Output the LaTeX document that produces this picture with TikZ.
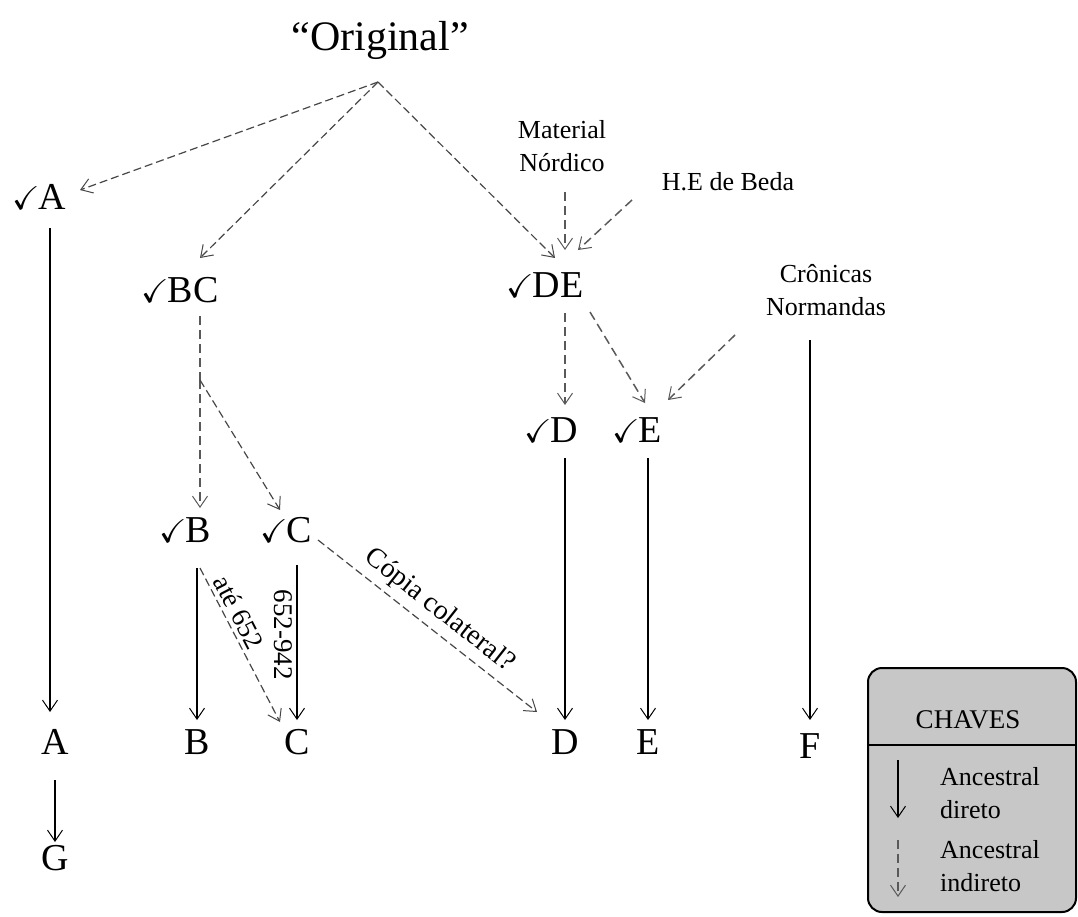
\documentclass[tikz,border=0pt]{standalone}
\usepackage{amssymb}
\usepackage{fontspec}
\setmainfont{Liberation Serif}
\usetikzlibrary{arrows.meta,calc}
\newcommand{\ck}{{\fontsize{33}{33}\selectfont$\checkmark$}\kern-1pt}
\tikzset{
  big/.style={inner sep=0pt,font=\fontsize{38}{40}\selectfont},
  small/.style={inner sep=0pt,align=center,font=\fontsize{26}{33}\selectfont},
  tip/.style={-{Straight Barb[length=11pt,width=15pt,line width=1pt]}},
  dir/.style={tip,draw=black,line width=1.2pt},
  ind/.style={tip,draw=black!65,line width=1.5pt,dash pattern=on 9pt off 5pt},
  ind2/.style={tip,draw=black!72,line width=1.2pt,dash pattern=on 8pt off 4pt},
}
\begin{document}
\begin{tikzpicture}[x=1pt,y=-1pt]
\useasboundingbox (0,0) rectangle (1078,916);
% nodes
\node[inner sep=0pt,font=\fontsize{42}{44}\selectfont] (orig) at (380,40) {“Original”};
\coordinate (apex) at (378,82);
\node[big] (vA) at (39,197) {\ck A};
\node[big] (vBC) at (180,290) {\ck BC};
\node[big] (vB) at (185,530) {\ck B};
\node[big] (vC) at (286,530) {\ck C};
\node[big] (vDE) at (545,285) {\ck DE};
\node[big] (vD) at (551,430) {\ck D};
\node[big] (vE) at (637,430) {\ck E};
\node[big] (bA) at (55,742) {A};
\node[big] (bB) at (197,742) {B};
\node[big] (bC) at (297,742) {C};
\node[big] (bD) at (565,742) {D};
\node[big] (bE) at (648,742) {E};
\node[big] (bF) at (810,746) {F};
\node[big] (bG) at (55,858) {G};
\node[small] (mat) at (562,146) {Material\\Nórdico};
\node[small] (beda) at (728,182) {H.E de Beda};
\node[small] (cron) at (826,290) {Crônicas\\Normandas};
\coordinate (split) at ([shift={(20,90)}]vBC.center);
% connectors from original
\draw[ind2] (apex) -- ([shift={(41,-7)}]vA.center);
\draw[ind2] (apex) -- ([shift={(20,-32)}]vBC.center);
\draw[ind2] (apex) -- ([shift={(10,-27)}]vDE.center);
% into DE
\draw[ind] ([shift={(3,46)}]mat.center) -- ([shift={(20,-35)}]vDE.center);
\draw[ind] ([shift={(-96,18)}]beda.center) -- ([shift={(33,-35)}]vDE.center);
% from DE
\draw[ind] ([shift={(20,28)}]vDE.center) -- ([shift={(14,-25)}]vD.center);
\draw[ind] ([shift={(45,27)}]vDE.center) -- ([shift={(8,-27)}]vE.center);
\draw[ind] ([shift={(-91,45)}]cron.center) -- ([shift={(31,-30)}]vE.center);
% BC
\draw[ind,-] ([shift={(20,26)}]vBC.center) -- (split);
\draw[ind] (split) -- ([shift={(15,-22)}]vB.center);
\draw[ind2] (split) -- ([shift={(-6,-20)}]vC.center);
% direct
\draw[dir] ([shift={(11,31)}]vA.center) -- ([shift={(-5,-30)}]bA.center);
\draw[dir] ([shift={(12,38)}]vB.center) -- ([shift={(0,-22)}]bB.center);
\draw[dir] ([shift={(11,35)}]vC.center) -- ([shift={(0,-22)}]bC.center)
  node[pos=0.45,sloped,below,inner sep=4pt,font=\fontsize{27}{27}\selectfont] {652-942};
\draw[dir] ([shift={(14,28)}]vD.center) -- ([shift={(0,-22)}]bD.center);
\draw[dir] ([shift={(11,28)}]vE.center) -- ([shift={(0,-22)}]bE.center);
\draw[dir] ([shift={(-16,50)}]cron.center) -- ([shift={(0,-26)}]bF.center);
\draw[dir] ([shift={(0,38)}]bA.center) -- ([shift={(0,-16)}]bG.center);
% collateral
\draw[ind2] ([shift={(15,38)}]vB.center) -- ([shift={(-17,-20)}]bC.center)
  node[pos=0.33,sloped,above,inner sep=4pt,font=\fontsize{27}{27}\selectfont] {até 652};
\draw[ind2] ([shift={(32,10)}]vC.center) -- ([shift={(-28,-30)}]bD.center)
  node[pos=0.5,sloped,above,inner sep=6pt,font=\fontsize{28}{28}\selectfont] {Cópia colateral?};
% legend
\node[draw=black,line width=2pt,fill=black!22,rounded corners=14pt,minimum width=208pt,minimum height=244pt,inner sep=0pt] (key) at (972,790) {};
\node[inner sep=0pt,font=\fontsize{27}{27}\selectfont] (keyt) at (968,720) {CHAVES};
\draw[line width=1.6pt] (key.west |- 0,745) -- (key.east |- 0,745);
\node[small,anchor=west,align=left] (k1) at (940,793) {Ancestral\\direto};
\node[small,anchor=west,align=left] (k2) at (940,866) {Ancestral\\indireto};
\draw[dir] ([shift={(-42,-33)}]k1.west) -- ([shift={(-42,25)}]k1.west);
\draw[ind] ([shift={(-42,-26)}]k2.west) -- ([shift={(-42,31)}]k2.west);
\end{tikzpicture}
\end{document}
